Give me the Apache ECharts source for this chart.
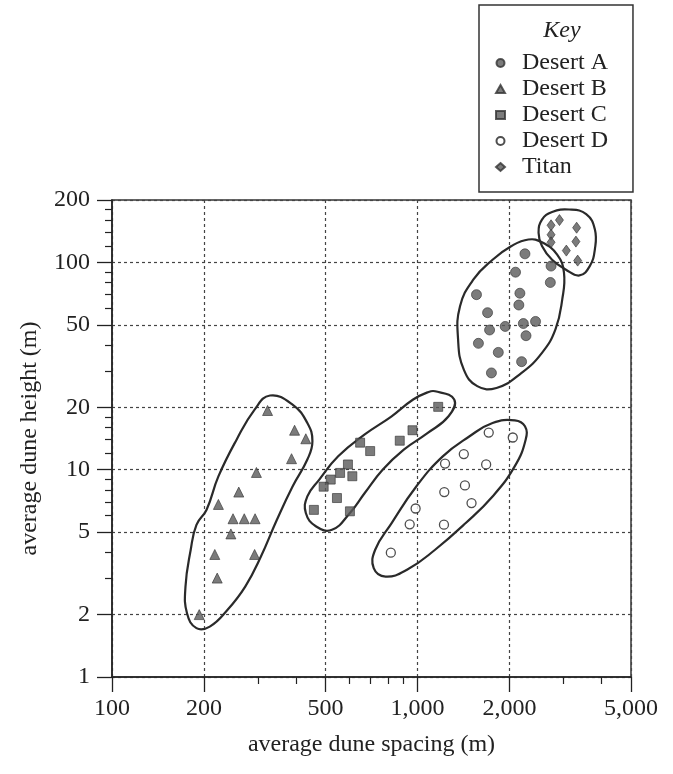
<!DOCTYPE html>
<html>
<head>
<meta charset="utf-8">
<script src="https://cdn.jsdelivr.net/npm/echarts@6/dist/echarts.min.js"></script>
<style>
html,body{margin:0;padding:0;background:#fff;}
#chart{width:673px;height:774px;}
</style>
</head>
<body>
<div id="chart"></div>
<script>
// axis ticks (log scales)
var xTicks = [100, 200, 500, 1000, 2000, 5000];
var xTickLabels = ['100', '200', '500', '1,000', '2,000', '5,000'];
var xMinorTicks = [300, 400, 600, 700, 800, 900, 3000, 4000];
var yTicks = [1, 2, 5, 10, 20, 50, 100, 200];
var yTickLabels = ['1', '2', '5', '10', '20', '50', '100', '200'];
var yMinorTicks = [3, 4, 6, 7, 8, 9, 12, 14, 16, 18, 30, 40, 60, 70, 80, 90, 120, 140, 160, 180];

// [spacing m, height m]
var desertA = [[2248,110],[2094,89.7],[2737,96],[2722,80],[1560,69.9],[2164,71],[2147,62.3],[1696,57.2],
    [1722,47.2],[1937,49.1],[2221,50.7],[2435,51.9],[2266,44.3],[1583,40.7],[1839,36.8],[2192,33.2],[1746,29.3]];
var desertB = [[323,19.3],[396,15.5],[431,14.1],[387,11.3],[297,9.7],[260,7.8],[223,6.8],[249,5.8],
    [271,5.8],[294,5.8],[245,4.9],[217,3.9],[293,3.9],[221,3.0],[193,2.0]];
var desertC = [[1169,20.1],[963,15.5],[875,13.8],[649,13.5],[700,12.3],[592,10.6],[558,9.65],[612,9.3],
    [520,8.96],[493,8.28],[545,7.3],[458,6.4],[601,6.3]];
var desertD = [[1711,15.1],[2051,14.3],[1418,11.9],[1231,10.7],[1678,10.6],[1430,8.4],[1224,7.8],[1503,6.9],
    [986,6.5],[943,5.45],[1221,5.43],[818,3.98]];
var titan = [[2737,151],[2916,160],[3319,147],[2737,136],[2737,125],[3301,126],[3071,114],[3345,102]];

// hand drawn enclosing loops, in data units
var loopA = [[2308,129],[2556,125],[2866,109],[3017,89.2],[2978,66.3],[2829,47.5],[2556,36.6],[2192,29.3],
    [1814,24.8],[1569,25.3],[1418,30.4],[1358,42.5],[1378,61.5],[1525,82.8],[1761,103],[2031,120]];
var loopB = [[329,22.8],[390,20.6],[436,16.8],[453,13.7],[436,11.2],[390,8.3],[346,5.7],[307,3.8],[273,2.73],
    [239,2.11],[209,1.75],[189,1.72],[176,2.03],[174,2.73],[181,4.11],[189,5.42],[204,6.41],[223,9.28],[256,14.0],[293,19.5]];
var loopC = [[1142,23.9],[1319,21.8],[1264,18.1],[1078,15.0],[902,12.5],[769,10.0],[672,7.72],[601,6.18],[525,5.13],
    [466,5.32],[431,6.18],[436,7.43],[477,8.95],[550,11.6],[672,14.8],[823,18.1],[968,21.8],[1078,23.6]];
var loopD = [[2083,17.3],[2248,16.2],[2261,14.0],[2083,10.4],[1761,7.43],[1439,5.53],[1142,4.11],[924,3.29],
    [786,3.05],[719,3.35],[727,4.11],[823,5.53],[991,8.30],[1210,11.6],[1481,14.5],[1761,16.8]];
var loopTitan = [[2556,161],[2758,175],[3136,180],[3567,171],[3809,144],[3809,116],[3664,96],[3389,86.5],
    [3054,92.5],[2758,103],[2556,120],[2491,139]];

var legendNames = ['Desert A', 'Desert B', 'Desert C', 'Desert D', 'Titan'];

var font = 'Liberation Serif';
var ink = '#222';
var grey = '#5a5a5a';

function tickLabel(ticks, labels) {
    return function (v) {
        for (var i = 0; i < ticks.length; i++) {
            if (Math.abs(ticks[i] - v) / ticks[i] < 1e-6) return labels[i];
        }
        return '';
    };
}

function loopSeries(name, pts) {
    return {
        name: name,
        type: 'custom',
        silent: true,
        z: 1,
        data: pts,
        encode: {x: 0, y: 1},
        renderItem: function (params, api) {
            if (params.dataIndex !== 0) return null;
            var p = [];
            for (var i = 0; i < pts.length; i++) p.push(api.coord(pts[i]));
            return {
                type: 'polygon',
                shape: {points: p, smooth: 0.45},
                style: {fill: 'none', stroke: '#2a2a2a', lineWidth: 2.2}
            };
        }
    };
}

function scatter(name, data, symbol, size, open) {
    return {
        name: name,
        type: 'scatter',
        z: 3,
        data: data,
        symbol: symbol,
        symbolSize: size,
        itemStyle: open ? {color: '#fff', borderColor: '#222', borderWidth: 1.3}
                        : {color: grey, borderColor: '#333', borderWidth: 0.8}
    };
}

var myChart = echarts.init(document.getElementById('chart'));
var option = {
    backgroundColor: '#fff',
    animation: false,
    textStyle: {fontFamily: font, color: ink},
    title: {
        text: 'Key',
        left: 557,
        top: 14,
        textAlign: 'center',
        textStyle: {fontFamily: font, fontSize: 24, fontStyle: 'italic', fontWeight: 'normal', color: ink}
    },
    legend: {
        data: legendNames,
        orient: 'vertical',
        left: 479,
        top: 5,
        padding: [45, 25, 12, 16],
        itemWidth: 9,
        itemHeight: 8,
        itemGap: 0,
        borderColor: '#333',
        borderWidth: 1.5,
        textStyle: {fontFamily: font, fontSize: 24, color: ink, lineHeight: 26, padding: [0, 0, 0, 12]}
    },
    grid: {
        left: 112, right: 42, top: 200, bottom: 97,
        show: true, borderColor: '#333', borderWidth: 1.5
    },
    xAxis: [{
        type: 'log', logBase: 10, min: 100, max: 5000,
        name: 'average dune spacing (m)', nameLocation: 'middle', nameGap: 56,
        nameTextStyle: {fontFamily: font, fontSize: 24, color: ink},
        axisLine: {onZero: false, lineStyle: {color: '#222', width: 1.5}},
        axisTick: {customValues: xTicks, length: 15, lineStyle: {color: '#222', width: 1.3}},
        axisLabel: {customValues: xTicks, formatter: tickLabel(xTicks, xTickLabels), margin: 20,
            fontFamily: font, fontSize: 24, color: ink},
        splitLine: {show: true, lineStyle: {color: '#444', width: 1.2, type: [3, 3]}}
    }, {
        type: 'log', logBase: 10, min: 100, max: 5000, position: 'bottom',
        axisLine: {show: false, onZero: false},
        axisTick: {customValues: xMinorTicks, length: 7, lineStyle: {color: '#222', width: 1.2}},
        axisLabel: {show: false},
        splitLine: {show: false}
    }],
    yAxis: [{
        type: 'log', logBase: 10, min: 1, max: 200,
        name: 'average dune height (m)', nameLocation: 'middle', nameGap: 70, nameRotate: 90,
        nameTextStyle: {fontFamily: font, fontSize: 24, color: ink},
        axisLine: {onZero: false, lineStyle: {color: '#222', width: 1.5}},
        axisTick: {customValues: yTicks, length: 15, lineStyle: {color: '#222', width: 1.3}},
        axisLabel: {customValues: yTicks, formatter: tickLabel(yTicks, yTickLabels), margin: 22,
            fontFamily: font, fontSize: 24, color: ink},
        splitLine: {show: true, lineStyle: {color: '#444', width: 1.2, type: [3, 3]}}
    }, {
        type: 'log', logBase: 10, min: 1, max: 200, position: 'left',
        axisLine: {show: false, onZero: false},
        axisTick: {customValues: yMinorTicks, length: 7, lineStyle: {color: '#222', width: 1.2}},
        axisLabel: {show: false},
        splitLine: {show: false}
    }],
    series: [
        loopSeries('loopA', loopA),
        loopSeries('loopB', loopB),
        loopSeries('loopC', loopC),
        loopSeries('loopD', loopD),
        loopSeries('loopTitan', loopTitan),
        scatter('Desert A', desertA, 'circle', 10, false),
        scatter('Desert B', desertB, 'triangle', 10, false),
        scatter('Desert C', desertC, 'rect', 9, false),
        scatter('Desert D', desertD, 'circle', 9, true),
        scatter('Titan', titan, 'diamond', [8, 11], false)
    ]
};
option && myChart.setOption(option);
</script>
</body>
</html>
